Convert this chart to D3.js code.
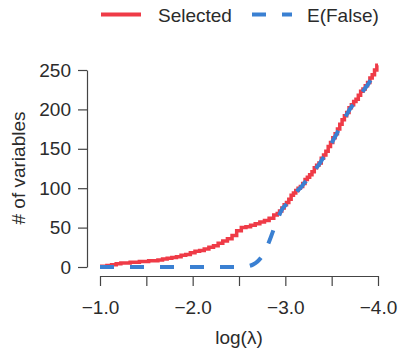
<!DOCTYPE html>
<html>
<head>
<meta charset="utf-8">
<script src="https://cdn.jsdelivr.net/npm/d3@7"></script>
<style>
  body { margin: 0; background: #fff; }
  text { font-family: "Liberation Sans", Arial, sans-serif; fill: #2b2b2b; }
</style>
</head>
<body>
<div id="chart"></div>
<script>
// data
const lambdas = [-1.00, -1.05, -1.10, -1.15, -1.20, -1.25, -1.30, -1.35, -1.40, -1.45,
  -1.50, -1.55, -1.60, -1.65, -1.70, -1.75, -1.80, -1.85, -1.90, -1.95,
  -2.00, -2.05, -2.10, -2.15, -2.20, -2.25, -2.30, -2.35, -2.40, -2.45,
  -2.50, -2.55, -2.60, -2.65, -2.70, -2.75, -2.80, -2.85,
  -2.900, -2.925, -2.950, -2.975, -3.000, -3.025, -3.050, -3.075, -3.100, -3.125,
  -3.150, -3.175, -3.200, -3.225, -3.250, -3.275, -3.300, -3.325, -3.350, -3.375,
  -3.400, -3.425, -3.450, -3.475, -3.500, -3.525, -3.550, -3.575, -3.600, -3.625,
  -3.650, -3.675, -3.700, -3.725, -3.750, -3.775, -3.800, -3.825, -3.850, -3.875,
  -3.900, -3.925, -3.950, -3.975, -4.000];
const selected = [1, 1, 2, 3, 4, 5, 5, 6, 6, 7,
  7, 8, 8, 9, 10, 11, 12, 13, 15, 16,
  18, 20, 21, 23, 25, 27, 30, 33, 36, 40,
  46, 50, 51, 53, 55, 57, 59, 62,
  66, 68, 71, 75, 79, 82, 86, 91, 94, 97,
  100, 102, 106, 111, 114, 117, 121, 126, 129, 132,
  138, 142, 147, 153, 158, 164, 169, 175, 181, 187,
  192, 196, 202, 206, 210, 213, 218, 223, 226, 230,
  234, 240, 244, 250, 256];
const expectedFalse = [0, 0, 0, 0, 0, 0, 0, 0, 0, 0,
  0, 0, 0, 0, 0, 0, 0, 0, 0, 0,
  0, 0, 0, 0, 0, 0, 0, 0, 0, 0,
  0, 0, 1, 3, 7, 14, 25, 40,
  56, 63, 70, 75, 78, 82, 85, 89, 92, 96,
  99, 102, 106, 109, 113, 117, 120, 124, 128, 132,
  137, 141, 146, 151, 157, 163, 168, 174, 180, 186,
  191, 196, 201, 205, 209, 213, 217, 221, 225, 229,
  233, 238, 243, 249, 255];
const xTicks = [-1.0, -1.5, -2.0, -2.5, -3.0, -3.5, -4.0];
const yTicks = [0, 50, 100, 150, 200, 250];
const seriesNames = ["Selected", "E(False)"];

const width = 400;
const height = 349;
const colors = { selected: "#ef3b47", efalse: "#3a80d2" };
const axisColor = "#444";
const fontSize = "19px";

const svg = d3.select("#chart").append("svg")
  .attr("width", width)
  .attr("height", height);

const x = d3.scaleLinear().domain([-1, -4]).range([100, 378]);
const y = d3.scaleLinear().domain([0, 250]).range([267, 70]);

// y axis
const yAxis = svg.append("g")
  .attr("transform", "translate(87,0)")
  .call(d3.axisLeft(y).tickValues(yTicks).tickSize(9).tickSizeOuter(0).tickPadding(7).tickFormat(d3.format("d")));

// x axis
const xAxis = svg.append("g")
  .attr("transform", "translate(0,276)")
  .call(d3.axisBottom(x).tickValues(xTicks).tickSize(10).tickSizeOuter(0).tickPadding(15)
    .tickFormat(function(d) { return Number.isInteger(d) ? d3.format(".1f")(d) : ""; }));

[yAxis, xAxis].forEach(function(g) {
  g.selectAll("path, line").attr("stroke", axisColor).attr("stroke-width", 1.2);
  g.selectAll("text").style("font-size", fontSize).attr("fill", "#2b2b2b");
});

// axis titles
svg.append("text")
  .attr("x", 239).attr("y", 344)
  .attr("text-anchor", "middle")
  .style("font-size", fontSize)
  .text("log(λ)");

svg.append("text")
  .attr("transform", "translate(25,168) rotate(-90)")
  .attr("text-anchor", "middle")
  .style("font-size", fontSize)
  .text("# of variables");

// lines
const selLine = d3.line()
  .x(function(d, i) { return x(lambdas[i]); })
  .y(function(d) { return y(d); })
  .curve(d3.curveStep);

const efLine = d3.line()
  .x(function(d, i) { return x(lambdas[i]); })
  .y(function(d) { return y(d); })
  .curve(d3.curveMonotoneX);

svg.append("path")
  .datum(selected)
  .attr("d", selLine)
  .attr("fill", "none")
  .attr("stroke", colors.selected)
  .attr("stroke-width", 3.5);

svg.append("path")
  .datum(expectedFalse)
  .attr("d", efLine)
  .attr("fill", "none")
  .attr("stroke", colors.efalse)
  .attr("stroke-width", 4)
  .attr("stroke-dasharray", "14,16");

// legend
const legend = svg.append("g");
legend.append("line")
  .attr("x1", 101).attr("x2", 141).attr("y1", 14.5).attr("y2", 14.5)
  .attr("stroke", colors.selected).attr("stroke-width", 4);
legend.append("text")
  .attr("x", 158).attr("y", 21.5)
  .style("font-size", fontSize)
  .text(seriesNames[0]);
legend.append("line")
  .attr("x1", 252).attr("x2", 292).attr("y1", 14.5).attr("y2", 14.5)
  .attr("stroke", colors.efalse).attr("stroke-width", 4)
  .attr("stroke-dasharray", "14,16");
legend.append("text")
  .attr("x", 307).attr("y", 21.5)
  .style("font-size", fontSize)
  .text(seriesNames[1]);
</script>
</body>
</html>
